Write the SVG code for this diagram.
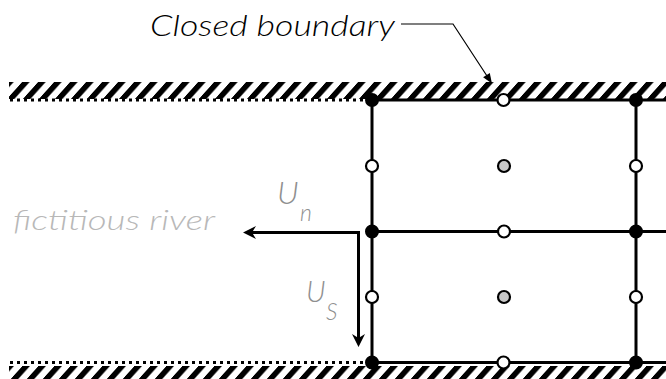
<svg xmlns="http://www.w3.org/2000/svg" width="666" height="379" viewBox="0 0 666 379">
  <style>
    .grid { stroke: #000; stroke-width: 3; fill: none; }
    .dotted { stroke: #000; stroke-width: 3; stroke-dasharray: 3 4; fill: none; }
    .blk { fill: #000; stroke: #000; stroke-width: 2; }
    .wht { fill: #fff; stroke: #000; stroke-width: 2.2; }
    .gry { fill: #c8c8c8; stroke: #000; stroke-width: 2.2; }
    .lbl { font-family: Lato, "Liberation Sans", Arial, sans-serif; font-style: italic; font-weight: 300; }
  </style>
  <defs>
    <pattern id="hatch" patternUnits="userSpaceOnUse" width="16" height="40" patternTransform="skewX(-42)">
      <rect x="0" y="0" width="7.5" height="40" fill="#000"/>
    </pattern>
    <marker id="barb" viewBox="-6 -7 15 14" markerWidth="15" markerHeight="14" refX="0" refY="0" orient="auto" markerUnits="userSpaceOnUse">
      <path d="M8,0 L-5,-6.5 L-1,0 L-5,6.5 Z" fill="#000"/>
    </marker>
    <marker id="tri" viewBox="-2 -5 12 10" markerWidth="12" markerHeight="10" refX="0" refY="0" orient="auto" markerUnits="userSpaceOnUse">
      <path d="M9,0 L-1,-4 L-1,4 Z" fill="#000"/>
    </marker>
  </defs>

  <g id="boundaries">
    <rect x="9" y="82" width="657" height="17" fill="url(#hatch)"/>
    <rect x="9" y="366" width="657" height="13" fill="url(#hatch)"/>
    <line class="dotted" x1="10" y1="100" x2="372" y2="100"/>
    <line class="dotted" x1="10" y1="362.5" x2="372" y2="362.5"/>
  </g>

  <g id="connectors">
    <line class="grid" x1="372" y1="100" x2="666" y2="100"/>
    <line class="grid" x1="372" y1="231.5" x2="666" y2="231.5"/>
    <line class="grid" x1="372" y1="362.5" x2="666" y2="362.5"/>
    <line class="grid" x1="372" y1="100" x2="372" y2="363"/>
    <line class="grid" x1="636" y1="100" x2="636" y2="363"/>
    <line class="grid" x1="359.5" y1="232.5" x2="251" y2="232.5" marker-end="url(#barb)"/>
    <line class="grid" x1="358.5" y1="231" x2="358.5" y2="339" marker-end="url(#barb)"/>
    <polyline points="401,24 453,24 487,76" fill="none" stroke="#000" stroke-width="1.2" marker-end="url(#tri)"/>
  </g>

  <g id="nodes">
    <g id="n-top-left"><circle class="blk" cx="372" cy="100" r="6"/></g>
    <g id="n-top-mid"><circle class="wht" cx="503.5" cy="100" r="6"/></g>
    <g id="n-top-right"><circle class="blk" cx="636" cy="100" r="6"/></g>
    <g id="n-u1-left"><circle class="wht" cx="372" cy="166" r="6"/></g>
    <g id="n-u1-mid"><circle class="gry" cx="504" cy="166" r="6"/></g>
    <g id="n-u1-right"><circle class="wht" cx="636" cy="166" r="6"/></g>
    <g id="n-mid-left"><circle class="blk" cx="372" cy="231.5" r="6"/></g>
    <g id="n-mid-mid"><circle class="wht" cx="504" cy="231.5" r="6"/></g>
    <g id="n-mid-right"><circle class="blk" cx="636" cy="231.5" r="6"/></g>
    <g id="n-l1-left"><circle class="wht" cx="372" cy="297" r="6"/></g>
    <g id="n-l1-mid"><circle class="gry" cx="504" cy="297" r="6"/></g>
    <g id="n-l1-right"><circle class="wht" cx="636" cy="297" r="6"/></g>
    <g id="n-bot-left"><circle class="blk" cx="372" cy="362.5" r="6"/></g>
    <g id="n-bot-mid"><circle class="wht" cx="503.5" cy="362.5" r="6"/></g>
    <g id="n-bot-right"><circle class="blk" cx="636" cy="362.5" r="6"/></g>
  </g>

  <g id="labels">
    <text class="lbl" x="150" y="36" font-size="30" fill="#000" textLength="245" lengthAdjust="spacingAndGlyphs">Closed boundary</text>
    <text class="lbl" x="13" y="230" font-size="27" fill="#b8b8b8" textLength="202" lengthAdjust="spacingAndGlyphs">fictitious river</text>
    <text class="lbl" x="277" y="204" font-size="32" fill="#8f8f8f">U</text>
    <text class="lbl" x="300" y="221" font-size="23" fill="#8f8f8f">n</text>
    <text class="lbl" x="306" y="302" font-size="29" fill="#8f8f8f">U</text>
    <text class="lbl" x="326" y="320" font-size="23" fill="#8f8f8f">S</text>
  </g>
</svg>
